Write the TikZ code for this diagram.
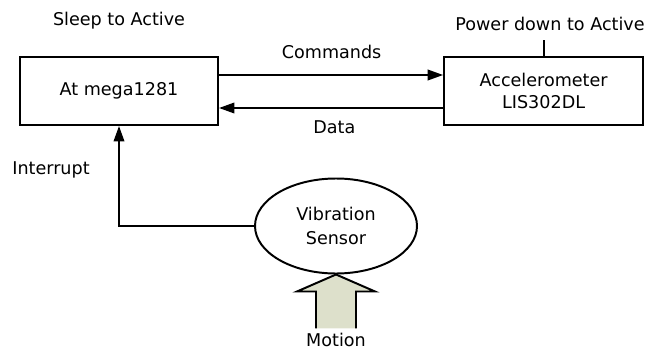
\documentclass[tikz,border=0pt]{standalone}
\usepackage{fontspec}
\setmainfont{DejaVu Sans}
\usepackage{tikz}
\usetikzlibrary{arrows.meta,shapes,positioning}
\definecolor{motionfill}{HTML}{DDE0CB}

\begin{document}
\begin{tikzpicture}[
    font=\fontsize{12.5}{15.5}\selectfont,
    block/.style={draw, line width=1.4pt, minimum height=1.7cm, align=center},
    sig/.style={line width=1.4pt, -{Triangle[length=11pt,width=7.5pt]}},
    wire/.style={line width=1.4pt}]
  \useasboundingbox (0,0) rectangle (16.55,-8.75);
  %draw the two blocks
  \node[block, minimum width=4.95cm] (atmega) at (2.975,-2.275) {At mega1281};
  \node[block, minimum width=4.975cm] (accel) at (13.59,-2.275) {Accelerometer\\LIS302DL};
  %insert state labels of the blocks
  \node (sleep) at (2.975,-0.525) {Sleep to Active};
  \node (power) at (13.75,-0.6) {Power down to Active};
  \coordinate (powertick) at (13.59,-1.0);
  \draw[wire] (accel.north) -- (powertick);
  %draw bus between blocks
  \draw[sig] ([yshift=0.4cm]atmega.east) -- ([yshift=0.4cm]accel.west);
  \draw[sig] ([yshift=-0.425cm]accel.west) -- ([yshift=-0.425cm]atmega.east);
  \node (cmds) at (8.29,-1.3) {Commands};
  \node (data) at (8.36,-3.17) {Data};
  %draw sensor and interrupt line
  \node[draw, ellipse, line width=1.4pt, minimum width=4.05cm, minimum height=2.375cm,
        align=center, font=\fontsize{12.5}{17.5}\selectfont] (vib) at (8.4,-5.65) {Vibration\\Sensor};
  \draw[sig] (vib.west) -| (atmega.south);
  \node (intr) at (1.275,-4.25) {Interrupt};
  %draw block arrow for motion
  \coordinate (tip) at (vib.south);
  \fill[motionfill] (tip) -- ++(0.975,-0.425) -- ++(-0.475,0) -- ++(0,-0.925)
    -- ++(-1.0,0) -- ++(0,0.925) -- ++(-0.475,0) -- cycle;
  \draw[wire, line join=miter] ([xshift=0.5cm,yshift=-1.35cm]tip) -- ++(0,0.925) -- ++(0.475,0) -- (tip)
    -- ++(-0.975,-0.425) -- ++(0.475,0) -- ++(0,-0.925);
  \node (motion) at (8.4,-8.5) {Motion};
\end{tikzpicture}
\end{document}
